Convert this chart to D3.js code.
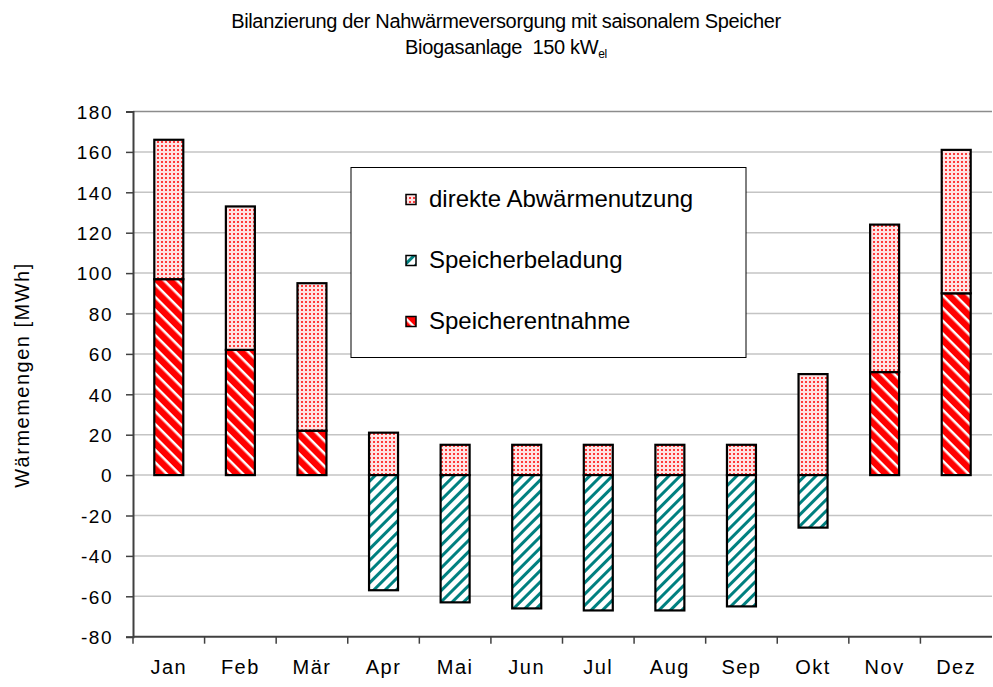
<!DOCTYPE html>
<html>
<head>
<meta charset="utf-8">
<script src="https://cdn.jsdelivr.net/npm/d3@7"></script>
<style>
    body { margin: 0; background: #fff; }
    svg text { font-family: "Liberation Sans", Arial, sans-serif; fill: #000; }
</style>
</head>
<body>
<svg id="chart" width="993" height="687"></svg>
<script>
// months
var months = ['Jan', 'Feb', 'Mär', 'Apr', 'Mai', 'Jun', 'Jul', 'Aug', 'Sep', 'Okt', 'Nov', 'Dez'];

// series values [MWh]
var abwaerme = [69, 71, 73, 21, 15, 15, 15, 15, 15, 50, 73, 71];
var beladung = [0, 0, 0, -57, -63, -66, -67, -67, -65, -26, 0, 0];
var entnahme = [97, 62, 22, 0, 0, 0, 0, 0, 0, 0, 51, 90];

// tick labels
var y_ticks = [-80, -60, -40, -20, 0, 20, 40, 60, 80, 100, 120, 140, 160, 180];

// series names
var series_names = ['direkte Abwärmenutzung', 'Speicherbeladung', 'Speicherentnahme'];

// get canvas
var svg = d3.select('#chart');
var defs = svg.append('defs');

// dotted pattern
var dots = defs.append('pattern')
    .attr('id', 'p_dots')
    .attr('width', 4).attr('height', 4)
    .attr('patternUnits', 'userSpaceOnUse');
dots.append('rect').attr('width', 4).attr('height', 4).attr('fill', '#ffe4e4');
dots.append('rect').attr('x', 1).attr('y', 1).attr('width', 2).attr('height', 2).attr('fill', '#ff3a3a');

// red hatch pattern
var red = defs.append('pattern')
    .attr('id', 'p_red')
    .attr('width', 9).attr('height', 9)
    .attr('patternUnits', 'userSpaceOnUse')
    .attr('patternTransform', 'rotate(-45)');
red.append('rect').attr('width', 9).attr('height', 9).attr('fill', '#fff');
red.append('rect').attr('width', 6.5).attr('height', 9).attr('fill', '#ff0000');

// teal hatch pattern
var teal = defs.append('pattern')
    .attr('id', 'p_teal')
    .attr('width', 8).attr('height', 8)
    .attr('patternUnits', 'userSpaceOnUse')
    .attr('patternTransform', 'rotate(45)');
teal.append('rect').attr('width', 8).attr('height', 8).attr('fill', '#fff');
teal.append('rect').attr('width', 3).attr('height', 8).attr('fill', '#008080');

var fills = ['url(#p_dots)', 'url(#p_teal)', 'url(#p_red)'];

// scales
var x = d3.scaleBand()
    .domain(months)
    .range([133, 992])
    .paddingInner(0.595)
    .paddingOuter(0.2975);
var y = d3.scaleLinear()
    .domain([-80, 180])
    .range([636.7, 111.5]);

// grid lines
svg.append('g')
    .selectAll('line')
    .data(y_ticks.filter(function(d) { return d > -80; }))
    .enter().append('line')
    .attr('x1', 133).attr('x2', 992)
    .attr('y1', function(d) { return y(d); })
    .attr('y2', function(d) { return y(d); })
    .attr('stroke', function(d) { return d == 180 ? '#8c8c8c' : '#c4c4c4'; })
    .attr('stroke-width', 1.5);

// y axis
var y_axis = svg.append('g')
    .attr('transform', 'translate(133,0)')
    .call(d3.axisLeft(y)
        .tickValues(y_ticks)
        .tickFormat(function(d) { return String(d); })
        .tickSize(7)
        .tickPadding(13));
y_axis.select('.domain').attr('stroke', '#404040').attr('stroke-width', 2);
y_axis.selectAll('.tick line').attr('stroke', '#404040').attr('stroke-width', 1.5);
y_axis.selectAll('text')
    .attr('dy', '0.36em')
    .style('font-family', '"Liberation Sans", Arial, sans-serif')
    .style('font-size', '19px')
    .style('letter-spacing', '1.5px');

// x axis
var x_axis = svg.append('g')
    .attr('transform', 'translate(0,' + y(-80) + ')');
x_axis.append('line')
    .attr('x1', 133).attr('x2', 992)
    .attr('stroke', '#404040').attr('stroke-width', 2);
x_axis.selectAll('.sep')
    .data(months)
    .enter().append('line')
    .attr('class', 'sep')
    .attr('x1', function(d) { return x(d) - x.step() * x.paddingOuter(); })
    .attr('x2', function(d) { return x(d) - x.step() * x.paddingOuter(); })
    .attr('y1', 0).attr('y2', 7)
    .attr('stroke', '#404040').attr('stroke-width', 1.5);
x_axis.selectAll('.lbl')
    .data(months)
    .enter().append('text')
    .attr('class', 'lbl')
    .attr('x', function(d) { return x(d) + x.bandwidth() / 2; })
    .attr('y', 37)
    .attr('text-anchor', 'middle')
    .style('font-size', '20px')
    .style('letter-spacing', '1.5px')
    .text(function(d) { return d; });

// bars
var bars = svg.append('g');
months.forEach(function(m, i) {
    // entnahme from zero
    if (entnahme[i] > 0) {
        bars.append('rect')
            .attr('x', x(m)).attr('width', x.bandwidth())
            .attr('y', y(entnahme[i])).attr('height', y(0) - y(entnahme[i]))
            .attr('fill', fills[2]);
    }
    // abwaerme on top
    var base = entnahme[i];
    bars.append('rect')
        .attr('x', x(m)).attr('width', x.bandwidth())
        .attr('y', y(base + abwaerme[i])).attr('height', y(base) - y(base + abwaerme[i]))
        .attr('fill', fills[0]);
    // beladung below zero
    if (beladung[i] < 0) {
        bars.append('rect')
            .attr('x', x(m)).attr('width', x.bandwidth())
            .attr('y', y(0)).attr('height', y(beladung[i]) - y(0))
            .attr('fill', fills[1]);
    }
});
bars.selectAll('rect')
    .attr('stroke', '#000')
    .attr('stroke-width', 2.2);

// legend
var legend = svg.append('g');
legend.append('rect')
    .attr('x', 351).attr('y', 167.5)
    .attr('width', 395).attr('height', 190)
    .attr('fill', '#fff')
    .attr('stroke', '#000').attr('stroke-width', 1);
series_names.forEach(function(name, i) {
    var cy = 199 + i * 61;
    legend.append('rect')
        .attr('x', 406).attr('y', cy - 4.5)
        .attr('width', 10).attr('height', 10)
        .attr('fill', fills[i])
        .attr('stroke', '#000').attr('stroke-width', 1.5);
    legend.append('text')
        .attr('x', 429).attr('y', cy + 7.5)
        .style('font-size', '24px')
        .style('letter-spacing', '0px')
        .text(name);
});

// title
var title = svg.append('text')
    .attr('text-anchor', 'middle')
    .style('font-size', '20px')
    .style('letter-spacing', '-0.35px')
    .style('white-space', 'pre');
title.append('tspan')
    .attr('x', 506).attr('y', 28)
    .text('Bilanzierung der Nahwärmeversorgung mit saisonalem Speicher');
var line2 = title.append('tspan')
    .attr('x', 506).attr('y', 54);
line2.append('tspan').text('Biogasanlage  150 kW');
line2.append('tspan').attr('dy', 4).style('font-size', '12px').text('el');

// y axis title
svg.append('text')
    .attr('transform', 'translate(29,375) rotate(-90)')
    .attr('text-anchor', 'middle')
    .style('font-size', '20px')
    .style('letter-spacing', '1.5px')
    .text('Wärmemengen [MWh]');
</script>
</body>
</html>
